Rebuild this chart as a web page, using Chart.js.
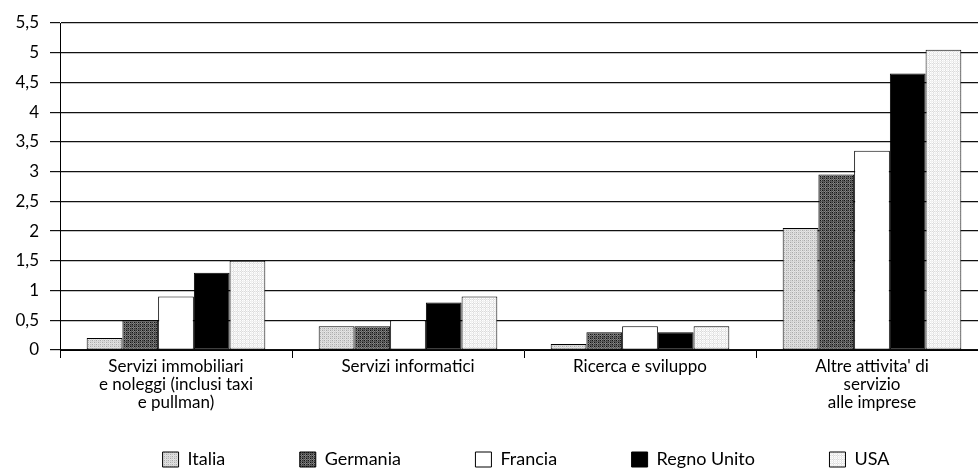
<!DOCTYPE html>
<html><head><meta charset="utf-8">
<script src="https://cdn.jsdelivr.net/npm/chart.js@4/dist/chart.umd.min.js"></script>
<style>html,body{margin:0;padding:0;background:#fff;overflow:hidden;width:978px;height:470px}canvas{display:block}</style>
</head><body>
<canvas id="c" width="988" height="470"></canvas>
<script>
// ---- data ----
const categories = [
  ["Servizi immobiliari", "e noleggi (inclusi taxi", "e pullman)"],
  "Servizi informatici",
  "Ricerca e sviluppo",
  ["Altre attivita' di", "servizio", "alle imprese"]
];
const seriesNames = ["Italia", "Germania", "Francia", "Regno Unito", "USA"];
const italia     = [0.2, 0.4, 0.1, 2.05];
const germania   = [0.5, 0.4, 0.3, 2.95];
const francia    = [0.9, 0.5, 0.4, 3.35];
const regnoUnito = [1.3, 0.8, 0.3, 4.65];
const usa        = [1.5, 0.9, 0.4, 5.05];
const yTickValues = [0, 0.5, 1, 1.5, 2, 2.5, 3, 3.5, 4, 4.5, 5, 5.5];

// ---- styles ----
function makePattern(palette) {
  const t = document.createElement('canvas');
  t.width = 4; t.height = 4;
  const g = t.getContext('2d');
  for (let y = 0; y < 4; y++) for (let x = 0; x < 4; x++) {
    g.fillStyle = palette[(x * 3 + y * 5 + x * y) % palette.length];
    g.fillRect(x, y, 1, 1);
  }
  return g.createPattern(t, 'repeat');
}
const ctx = document.getElementById('c').getContext('2d');
const fills = [
  makePattern(['#a8a8a8', '#d8d8d8', '#bdbdbd', '#e6e6e6']),
  makePattern(['#101010', '#5a5a5a', '#303030', '#858585']),
  '#ffffff',
  '#000000',
  makePattern(['#ffffff', '#f0f0f0', '#ffffff', '#dcdcdc'])
];
const seriesData = [italia, germania, francia, regnoUnito, usa];

Chart.defaults.font.family = 'Lato, "DejaVu Sans", sans-serif';
Chart.defaults.color = '#000';

const LEGEND_H = 30;
const legendFix = {
  id: 'legendFix',
  beforeLayout(chart) {
    const l = chart.legend;
    if (l && !l._fixed) {
      const orig = l.fit.bind(l);
      l.fit = function () { orig(); this.height = LEGEND_H; };
      l._fixed = true;
    }
  },
  afterLayout(chart) {
    const l = chart.legend;
    const dx = 32, dy = -64;
    l.left += dx; l.right += dx; l.top += dy; l.bottom = chart.height;
  }
};

new Chart(ctx, {
  type: 'bar',
  data: {
    labels: categories,
    datasets: seriesNames.map((n, i) => ({
      label: n,
      data: seriesData[i],
      backgroundColor: fills[i],
      borderColor: '#000',
      borderWidth: 1,
      borderSkipped: false,
      categoryPercentage: 0.77,
      barPercentage: 1.0
    }))
  },
  options: {
    responsive: false,
    animation: false,
    devicePixelRatio: 1,
    layout: { padding: { top: 23, right: 0, left: 0, bottom: 0 } },
    plugins: {
      tooltip: { enabled: false },
      legend: {
        position: 'bottom',
        labels: {
          boxWidth: 16, boxHeight: 15, padding: 74.5,
          font: { size: 18 }, color: '#000'
        }
      }
    },
    scales: {
      x: {
        offset: true,
        grid: { display: true, drawOnChartArea: false, drawTicks: true, tickLength: 8, color: '#000', offset: true },
        border: { display: true, color: '#000', width: 1 },
        ticks: { font: { size: 17, lineHeight: '18px' }, color: '#000', padding: 0, maxRotation: 0, autoSkip: false },
        afterFit(s) { s.height = 90; }
      },
      y: {
        min: 0, max: 5.5,
        afterBuildTicks(s) { s.ticks = yTickValues.map(v => ({ value: v })); },
        grid: { color: '#111', lineWidth: 1.2, tickLength: 10, drawTicks: true },
        border: { display: true, color: '#000', width: 1 },
        ticks: {
          font: { size: 17 }, color: '#000', padding: 11,
          callback: v => String(v).replace('.', ',')
        },
        afterFit(s) { s.width = 60; }
      }
    }
  },
  plugins: [legendFix]
});
</script>
</body></html>
